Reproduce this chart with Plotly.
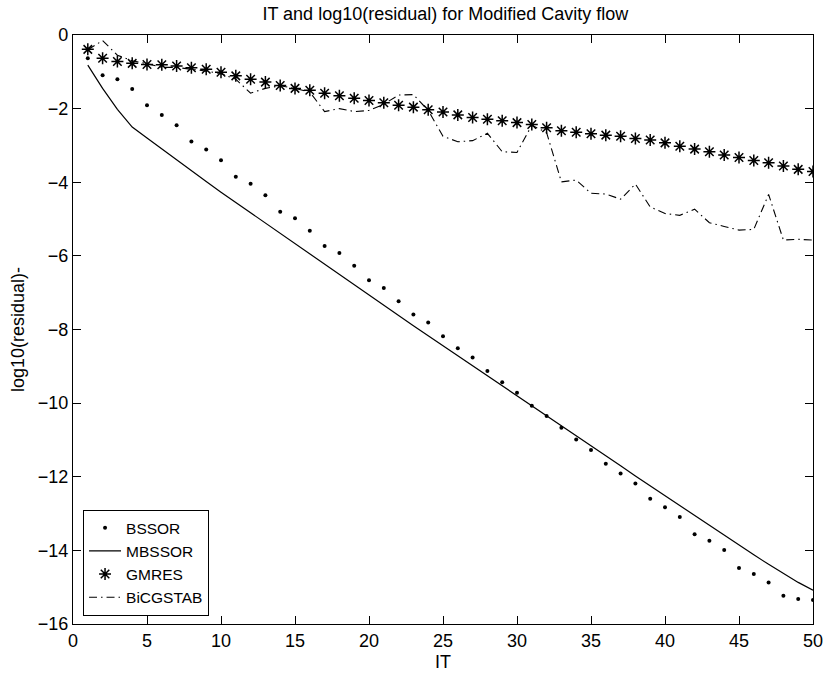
import plotly.graph_objs as go

# iteration numbers
iterations = list(range(1, 51))

# log10(residual) per iteration
bssor = [-0.63, -1.09, -1.20, -1.47, -1.91, -2.17, -2.45, -2.89, -3.11, -3.40,
         -3.85, -4.04, -4.35, -4.80, -4.98, -5.32, -5.73, -5.92, -6.27, -6.66,
         -6.87, -7.23, -7.59, -7.81, -8.18, -8.51, -8.76, -9.13, -9.43, -9.72,
         -10.07, -10.35, -10.67, -10.99, -11.27, -11.65, -11.91, -12.18, -12.60, -12.83,
         -13.09, -13.56, -13.74, -13.99, -14.48, -14.64, -14.87, -15.23, -15.32, -15.35]

mbssor = [-0.82, -1.45, -2.02, -2.50, -2.80, -3.10, -3.40, -3.70, -3.98, -4.27,
          -4.55, -4.84, -5.12, -5.40, -5.68, -5.96, -6.24, -6.52, -6.80, -7.08,
          -7.35, -7.63, -7.90, -8.17, -8.44, -8.71, -8.98, -9.25, -9.52, -9.79,
          -10.06, -10.33, -10.60, -10.87, -11.14, -11.41, -11.70, -11.98, -12.25, -12.50,
          -12.78, -13.05, -13.32, -13.59, -13.86, -14.12, -14.38, -14.63, -14.87, -15.08]

gmres = [-0.39, -0.63, -0.72, -0.77, -0.80, -0.81, -0.84, -0.89, -0.93, -1.01,
         -1.11, -1.20, -1.28, -1.37, -1.45, -1.50, -1.58, -1.65, -1.72, -1.78,
         -1.84, -1.91, -1.96, -2.03, -2.09, -2.17, -2.24, -2.29, -2.33, -2.38,
         -2.43, -2.52, -2.60, -2.64, -2.68, -2.72, -2.75, -2.81, -2.85, -2.93,
         -3.02, -3.10, -3.17, -3.26, -3.33, -3.41, -3.47, -3.56, -3.65, -3.71]

bicgstab = [-0.40, -0.15, -0.55, -0.70, -0.78, -0.88, -0.88, -0.92, -0.98, -1.05,
            -1.20, -1.58, -1.45, -1.38, -1.45, -1.55, -2.08, -2.00, -2.08, -2.05,
            -1.88, -1.63, -1.62, -2.05, -2.75, -2.90, -2.87, -2.67, -3.17, -3.19,
            -2.45, -2.65, -3.99, -3.94, -4.30, -4.32, -4.46, -4.05, -4.67, -4.85,
            -4.90, -4.73, -5.10, -5.20, -5.30, -5.28, -4.33, -5.57, -5.55, -5.57]

xTicks = [0, 5, 10, 15, 20, 25, 30, 35, 40, 45, 50]
yTicks = [0, -2, -4, -6, -8, -10, -12, -14, -16]

fontName = "Liberation Sans, Arial, sans-serif"

traces = [
    go.Scatter(x=iterations, y=bssor, name="BSSOR", mode="markers",
               marker=dict(symbol="circle", size=4, color="black")),
    go.Scatter(x=iterations, y=mbssor, name="MBSSOR", mode="lines",
               line=dict(color="black", width=1.2)),
    go.Scatter(x=iterations, y=gmres, name="GMRES", mode="markers",
               marker=dict(symbol="asterisk-open", size=10, color="black",
                           line=dict(color="black", width=1.5))),
    go.Scatter(x=iterations, y=bicgstab, name="BiCGSTAB", mode="lines",
               line=dict(color="black", width=1.1, dash="8px,4px,1.5px,4px")),
]

axisStyle = dict(
    showline=True, linecolor="black", linewidth=1.4, mirror="ticks",
    ticks="inside", ticklen=8, tickwidth=1, tickcolor="black",
    showgrid=False, zeroline=False,
    tickfont=dict(family=fontName, size=18, color="black"),
)

fig = go.Figure(data=traces)
fig.update_layout(
    width=834, height=675,
    margin=dict(l=73, r=11, t=35, b=51),
    paper_bgcolor="white", plot_bgcolor="white",
    font=dict(family=fontName, size=18, color="black"),
    title=dict(text="IT and log10(residual) for Modified Cavity flow",
               x=0.534, xanchor="center", y=0.98, yanchor="middle",
               font=dict(family=fontName, size=18, color="black")),
    xaxis=dict(range=[0, 50], tickvals=xTicks, **axisStyle),
    yaxis=dict(range=[-16, 0], tickvals=yTicks,
               title=dict(text="log10(residual)-", standoff=8,
                          font=dict(family=fontName, size=18)),
               **axisStyle),
    legend=dict(x=0.0133, y=0.0136, xanchor="left", yanchor="bottom",
                bgcolor="white", bordercolor="black", borderwidth=1.2,
                font=dict(family=fontName, size=15.5, color="black"),
                tracegroupgap=0, itemwidth=32),
    showlegend=True,
)

# x axis title placed by hand so it stays inside the page
fig.add_annotation(text="IT", xref="paper", yref="paper", x=0.5, y=0,
                   xanchor="center", yanchor="middle", yshift=-38, showarrow=False,
                   font=dict(family=fontName, size=18, color="black"))

# drop the browser's default body margin so the figure sits at the page corner
fig.write_html("out.html", config={"displayModeBar": False},
               post_script="document.body.style.margin='0';")
